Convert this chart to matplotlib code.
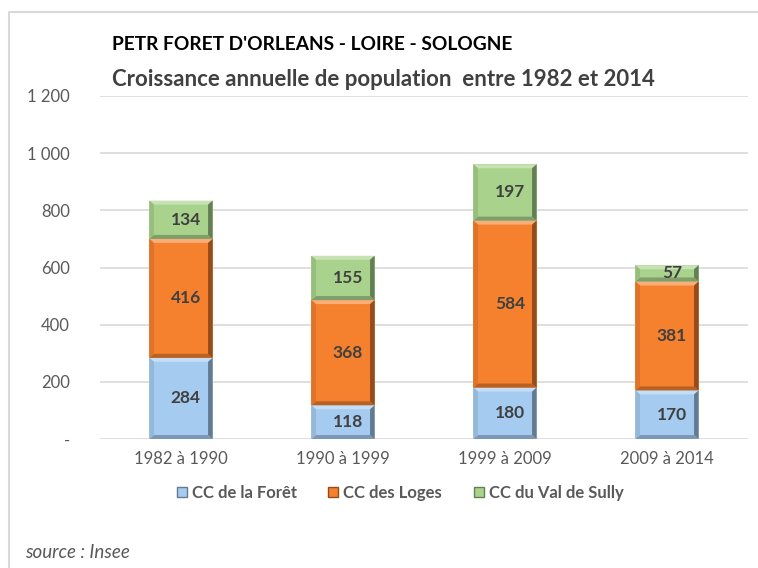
#!/usr/bin/env python3
import matplotlib
matplotlib.use("Agg")
import matplotlib.pyplot as plt
import matplotlib.colors as mcolors
from matplotlib.patches import Polygon
from matplotlib.lines import Line2D
import numpy as np

# Data
periods = ["1982 à 1990", "1990 à 1999", "1999 à 2009", "2009 à 2014"]
foret = [284, 118, 180, 170]
loges = [416, 368, 584, 381]
sully = [134, 155, 197, 57]
series_names = ["CC de la Forêt", "CC des Loges", "CC du Val de Sully"]
series_colors = ["#A6CBF0", "#F5812F", "#A9D38C"]
yticks = [0, 200, 400, 600, 800, 1000, 1200]

plt.rcParams["font.family"] = ["Lato", "DejaVu Sans"]


def shade(color, factor):
    r, g, b = mcolors.to_rgb(color)
    if factor > 1:
        f = factor - 1
        return (r + (1 - r) * f, g + (1 - g) * f, b + (1 - b) * f)
    return (r * factor, g * factor, b * factor)


def add_bevel(ax, patch, color, bx=0.028, by=14):
    x0, y0 = patch.get_x(), patch.get_y()
    x1, y1 = x0 + patch.get_width(), y0 + patch.get_height()
    by = min(by, (y1 - y0) / 3)
    faces = [
        ([(x0, y1), (x1, y1), (x1 - bx, y1 - by), (x0 + bx, y1 - by)], shade(color, 1.35)),
        ([(x0, y0), (x1, y0), (x1 - bx, y0 + by), (x0 + bx, y0 + by)], shade(color, 0.75)),
        ([(x0, y0), (x0, y1), (x0 + bx, y1 - by), (x0 + bx, y0 + by)], shade(color, 0.9)),
        ([(x1, y0), (x1, y1), (x1 - bx, y1 - by), (x1 - bx, y0 + by)], shade(color, 0.6)),
    ]
    for pts, c in faces:
        ax.add_patch(Polygon(pts, closed=True, facecolor=c, edgecolor="none", zorder=3))


fig = plt.figure(figsize=(7.58, 5.68), dpi=100)
ax = fig.add_axes([100 / 758, 129 / 568, 648 / 758, 343 / 568])

x = np.arange(len(periods))
width = 0.39
bottoms = np.zeros(len(periods))
for vals, name, col in zip([foret, loges, sully], series_names, series_colors):
    bars = ax.bar(x, vals, width, bottom=bottoms, color=col, label=name,
                  edgecolor="none", zorder=2)
    for p, v in zip(bars, vals):
        add_bevel(ax, p, col)
        ax.text(p.get_x() + p.get_width() / 2 + 0.03, p.get_y() + v / 2, str(v),
                ha="center", va="center", fontsize=12.5, fontweight="bold",
                color="#404040", zorder=4)
    bottoms += np.array(vals)

ax.set_xlim(-0.5, len(periods) - 0.5)
ax.set_ylim(0, 1200)
ax.set_yticks(yticks)
ax.set_yticklabels(["-" if v == 0 else f"{v:,}".replace(",", " ") for v in yticks])
ax.set_xticks(x)
ax.set_xticklabels(periods)
ax.tick_params(axis="y", length=0, pad=21.5, labelsize=12, labelcolor="#595959")
ax.tick_params(axis="x", length=0, pad=9, labelsize=12, labelcolor="#595959")
ax.grid(axis="y", color="#D9D9D9", linewidth=1.2, zorder=0)
ax.set_axisbelow(True)
for s in ax.spines.values():
    s.set_visible(False)

fig.text(112 / 758, 1 - 45 / 568, "PETR FORET D'ORLEANS - LOIRE - SOLOGNE",
         fontsize=13.8, fontweight="bold", color="black", va="center", ha="left")
fig.text(112 / 758, 1 - 80 / 568, "Croissance annuelle de population  entre 1982 et 2014",
         fontsize=16, fontweight="bold", color="#404040", va="center", ha="left")

handles = [plt.Rectangle((0, 0), 1, 1, facecolor=c, edgecolor=shade(c, 0.6)) for c in series_colors]
fig.legend(handles, series_names, loc="center", bbox_to_anchor=(400 / 758, 1 - 493 / 568),
           ncol=3, frameon=False, handlelength=0.6, handleheight=0.6,
           handletextpad=0.3, columnspacing=1.9, prop={"weight": "bold", "size": 12},
           labelcolor="#595959")

fig.text(25 / 758, 1 - 553 / 568, "source : Insee", fontsize=13.5, style="italic",
         color="#595959", va="center", ha="left")

# chart frame (top and left edge visible in the crop)
fig.add_artist(Line2D([9 / 758, 9 / 758, 1.0], [0.0, 1 - 12 / 568, 1 - 12 / 568],
                      transform=fig.transFigure, color="#D9D9D9", linewidth=1.5))

fig.savefig("out.png", dpi=100)
